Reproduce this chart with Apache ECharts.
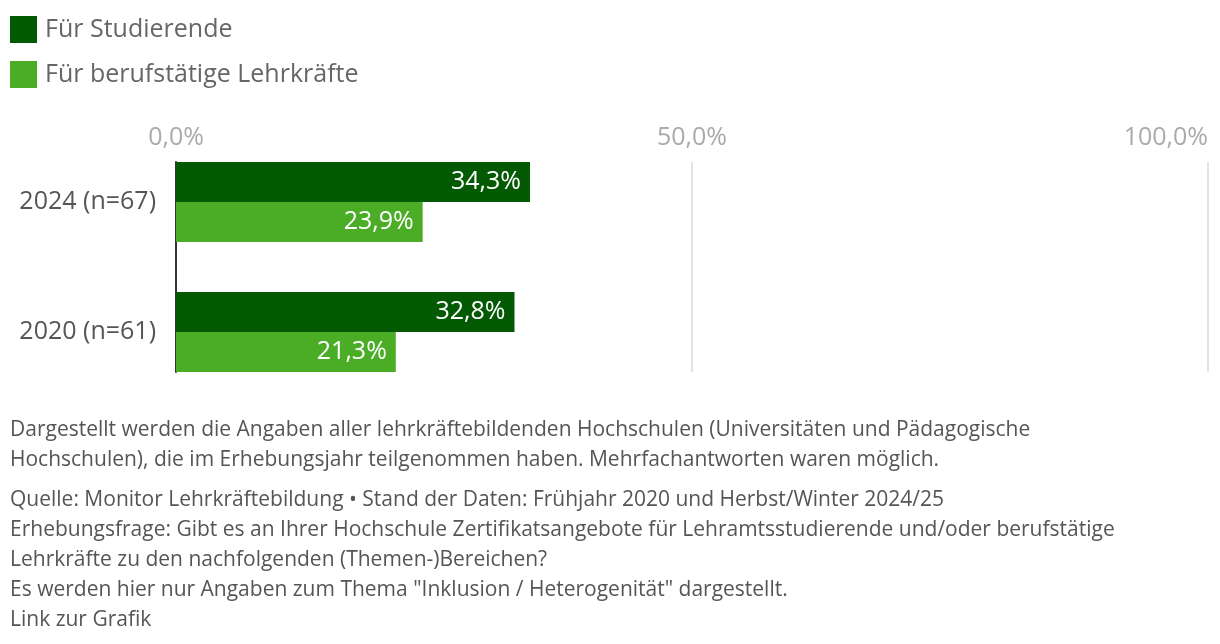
<!DOCTYPE html>
<html>
<head>
<meta charset="utf-8">
<script src="https://cdn.jsdelivr.net/npm/echarts@6/dist/echarts.min.js"></script>
<style>
  html, body { margin: 0; padding: 0; background: #fff; }
  #chart { width: 1220px; height: 644px; }
</style>
</head>
<body>
<div id="chart"></div>
<script>
var categories = ['2024 (n=67)', '2020 (n=61)'];
var seriesNames = ['Für Studierende', 'Für berufstätige Lehrkräfte'];
var studierende = [34.3, 32.8];
var lehrkraefte = [23.9, 21.3];
var axisTicks = [0, 50, 100];
var notes = 'Dargestellt werden die Angaben aller lehrkräftebildenden Hochschulen (Universitäten und Pädagogische\nHochschulen), die im Erhebungsjahr teilgenommen haben. Mehrfachantworten waren möglich.';
var source = 'Quelle: Monitor Lehrkräftebildung • Stand der Daten: Frühjahr 2020 und Herbst/Winter 2024/25\n' +
  'Erhebungsfrage: Gibt es an Ihrer Hochschule Zertifikatsangebote für Lehramtsstudierende und/oder berufstätige\n' +
  'Lehrkräfte zu den nachfolgenden (Themen-)Bereichen?\n' +
  'Es werden hier nur Angaben zum Thema "Inklusion / Heterogenität" dargestellt.\n' +
  'Link zur Grafik';

var FONT = '"Open Sans", "Noto Sans", sans-serif';
var fmt = function (v) { return v.toFixed(1).replace('.', ',') + '%'; };

var chart = echarts.init(document.getElementById('chart'));
chart.setOption({
  animation: false,
  textStyle: { fontFamily: FONT },
  color: ['#045a03', '#4aad25'],
  title: [
    { text: notes, left: 10, top: 415, padding: 0, textStyle: { fontSize: 21, fontWeight: 'normal', color: '#555', lineHeight: 30, fontFamily: FONT } },
    { text: source, left: 10, top: 485, padding: 0, textStyle: { fontSize: 21, fontWeight: 'normal', color: '#555', lineHeight: 30, fontFamily: FONT } }
  ],
  legend: {
    data: seriesNames,
    orient: 'vertical',
    left: 10,
    top: 16,
    padding: 0,
    icon: 'rect',
    itemWidth: 27,
    itemHeight: 27,
    itemGap: 18,
    textStyle: { fontSize: 25, color: '#666', fontFamily: FONT, padding: [0, 0, 0, 3] }
  },
  grid: [
    { left: 176, right: 12, top: 137, height: 260, containLabel: false },
    { left: 176, right: 12, top: 162, height: 210, containLabel: false }
  ],
  xAxis: [
    { gridIndex: 0, type: 'value', min: 0, max: 100, show: false },
    {
      gridIndex: 1, type: 'value', min: 0, max: 100, interval: 50, position: 'top',
      axisLine: { show: false }, axisTick: { show: false },
      axisLabel: { fontSize: 25, color: '#aaa', margin: 12, formatter: fmt, alignMaxLabel: 'right',
        customValues: axisTicks },
      splitLine: { lineStyle: { color: '#e3e3e3', width: 2 } }
    }
  ],
  yAxis: [
    {
      gridIndex: 0, type: 'category', data: categories, inverse: true,
      axisLine: { show: false }, axisTick: { show: false }, splitLine: { show: false },
      axisLabel: { fontSize: 25, color: '#555', margin: 20 }
    },
    {
      gridIndex: 1, type: 'value', min: 0, max: 1,
      axisLine: { show: true, onZero: false, lineStyle: { color: '#333', width: 2 } },
      axisTick: { show: false }, axisLabel: { show: false }, splitLine: { show: false }
    }
  ],
  series: [
    {
      name: seriesNames[0], type: 'bar', xAxisIndex: 0, yAxisIndex: 0,
      data: studierende, barWidth: 40, barGap: '0%',
      label: { show: true, position: 'insideRight', color: '#fff', fontSize: 25, distance: 9,
        formatter: function (p) { return fmt(p.value); } }
    },
    {
      name: seriesNames[1], type: 'bar', xAxisIndex: 0, yAxisIndex: 0,
      data: lehrkraefte, barWidth: 40, barGap: '0%',
      label: { show: true, position: 'insideRight', color: '#fff', fontSize: 25, distance: 9,
        formatter: function (p) { return fmt(p.value); } }
    }
  ]
});
</script>
</body>
</html>
